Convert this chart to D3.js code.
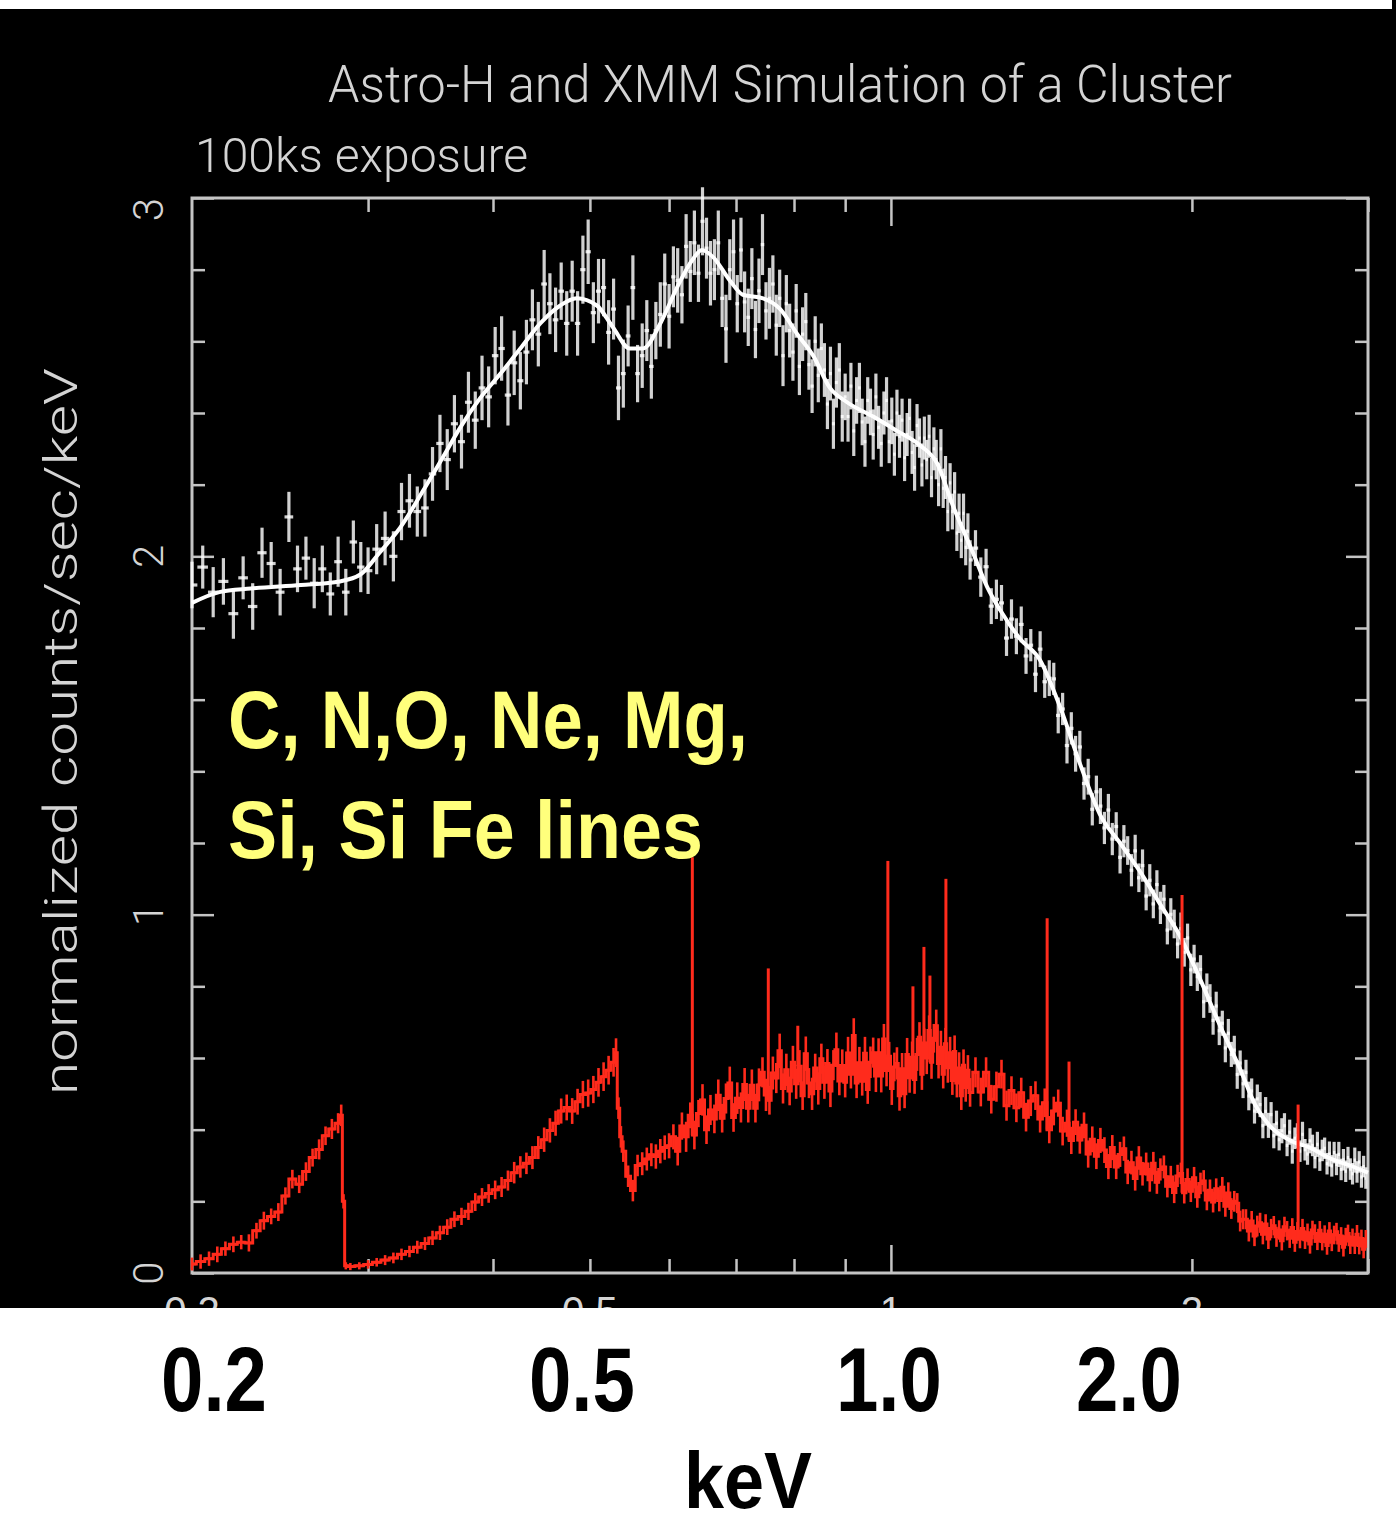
<!DOCTYPE html>
<html>
<head>
<meta charset="utf-8">
<script src="https://cdn.jsdelivr.net/npm/d3@7"></script>
<style>
  body { margin: 0; background: #fff; }
  svg { display: block; }
</style>
</head>
<body>
<div id="chart"></div>
<script>
// ---- data ----
const xDomain = [0.2, 3.0];
const yDomain = [0, 3];
const xMinorTicks = [0.3, 0.4, 0.5, 0.6, 0.7, 0.8, 0.9, 2, 3];
const xMajorTicks = [1];
const yMinorTicks = [0.2, 0.4, 0.6, 0.8, 1.2, 1.4, 1.6, 1.8, 2.2, 2.4, 2.6, 2.8];
const yMajorTicks = [0, 1, 2, 3];
const yTickLabels = ["0", "1", "2", "3"];
const xPlotLabelValues = [0.2, 0.5, 1, 2];
const xPlotLabels = ["0.2", "0.5", "1", "2"];
const bigLabelValues = [0.2, 0.5, 1.0, 2.0];
const bigLabels = ["0.2", "0.5", "1.0", "2.0"];

// shared energy bins above 0.6 keV
const gridMid = [0.606,0.612,0.618,0.624,0.630,0.636,0.642,0.648,0.654,0.660,0.666,0.672,0.678,0.684,0.690,0.696,0.702,0.708,0.714,0.720,0.726,0.732,0.738,0.744,0.750,0.756,0.762,0.768,0.774,0.780,0.786,0.792,0.798,0.804,0.810,0.816,0.822,0.828,0.834,0.840,0.846,0.852,0.858,0.864,0.870,0.876,0.882,0.888,0.894,0.900,0.906,0.912,0.918,0.924,0.930,0.936,0.942,0.948,0.954,0.960,0.966,0.972,0.978,0.984,0.990,0.996,1.002,1.008,1.014,1.020,1.026,1.032,1.038,1.044,1.050,1.056,1.062,1.068,1.074,1.080,1.086,1.092,1.098,1.104,1.110,1.116,1.122,1.128,1.134,1.140,1.146,1.152,1.158,1.164,1.170,1.176,1.182,1.188,1.194,1.200];
const gridHigh = [1.215,1.230,1.245,1.260,1.275,1.290,1.305,1.320,1.335,1.350,1.365,1.380,1.395,1.410,1.425,1.440,1.455,1.470,1.485,1.500,1.515,1.530,1.545,1.560,1.575,1.590,1.605,1.620,1.635,1.650,1.665,1.680,1.695,1.710,1.725,1.740,1.755,1.770,1.785,1.800,1.815,1.830,1.845,1.860,1.875,1.890,1.905,1.920,1.935,1.950,1.965,1.980,1.995,2.010,2.025,2.040,2.055,2.070,2.085,2.100,2.115,2.130,2.145,2.160,2.175,2.190,2.205,2.220,2.235,2.250,2.265,2.280,2.295,2.310,2.325,2.340,2.355,2.370,2.385,2.400,2.415,2.430,2.445,2.460,2.475,2.490,2.505,2.520,2.535,2.550,2.565,2.580,2.595,2.610,2.625,2.640,2.655,2.670,2.685,2.700,2.715,2.730,2.745,2.760,2.775,2.790,2.805,2.820,2.835,2.850,2.865,2.880,2.895,2.910,2.925,2.940,2.955,2.970,2.985];

// white: XMM-like spectrum, model curve + binned data
const whiteModelE = [0.200,0.213,0.229,0.257,0.281,0.295,0.308,0.323,0.340,0.357,0.371,0.388,0.407,0.426,0.446,0.467,0.485,0.508,0.527,0.548,0.565,0.588,0.611,0.634,0.647,0.664,0.690,0.711,0.745,0.775,0.806,0.836,0.869,0.904,0.960,1.014,1.069,1.112,1.154,1.208,1.248,1.286,1.346,1.410,1.476,1.546,1.618,1.695,1.775,1.858,1.946,2.038,2.134,2.234,2.313,2.394,2.507,2.625,2.749,2.878,3.000];
const whiteModelV = [1.87,1.90,1.91,1.92,1.93,1.95,2.01,2.08,2.18,2.28,2.36,2.44,2.51,2.58,2.65,2.70,2.72,2.70,2.64,2.58,2.58,2.65,2.75,2.83,2.855,2.835,2.77,2.73,2.72,2.69,2.62,2.56,2.47,2.43,2.39,2.35,2.31,2.26,2.14,2.01,1.915,1.85,1.77,1.71,1.58,1.42,1.28,1.20,1.12,1.03,0.94,0.82,0.69,0.57,0.47,0.41,0.37,0.35,0.32,0.30,0.28];

const whiteLowE = [0.200,0.205,0.210,0.215,0.220,0.225,0.230,0.235,0.240,0.245,0.250,0.255,0.260,0.265,0.270,0.275,0.280,0.285,0.290,0.295,0.300,
  0.306,0.312,0.318,0.324,0.330,0.336,0.342,0.348,0.354,0.360,0.366,0.372,0.378,0.384,0.390,0.396,0.402,0.408,0.414,0.420,0.426,0.432,0.438,0.444,0.450,0.456,0.462,0.468,0.474,0.480,0.486,0.492,0.498,0.504,0.510,0.516,0.522,0.528,0.534,0.540,0.546,0.552,0.558,0.564,0.570,0.576,0.582,0.588,0.594,0.600];
const whiteLowV = [1.92,1.97,1.90,1.93,1.84,1.94,1.86,2.01,1.98,1.90,2.11,1.965,1.995,1.925,1.965,1.895,1.985,1.90,2.04,1.97,1.96,
  2.02,2.05,2.00,2.125,2.155,2.125,2.135,2.23,2.315,2.27,2.37,2.32,2.43,2.38,2.47,2.445,2.56,2.58,2.45,2.54,2.49,2.57,2.66,2.62,2.76,2.705,2.66,2.74,2.65,2.74,2.65,2.80,2.85,2.68,2.74,2.75,2.625,2.69,2.47,2.51,2.615,2.75,2.51,2.56,2.63,2.53,2.63,2.675,2.76,2.67];
const whiteLowErr = [0.065,0.06,0.07,0.065,0.07,0.06,0.065,0.07,0.06,0.065,0.07,0.065,0.06,0.07,0.065,0.06,0.07,0.065,0.06,0.07,0.065,
  0.07,0.075,0.07,0.08,0.075,0.07,0.08,0.075,0.08,0.085,0.08,0.075,0.085,0.08,0.09,0.085,0.08,0.09,0.085,0.09,0.08,0.09,0.085,0.09,0.095,0.085,0.09,0.08,0.09,0.085,0.09,0.095,0.09,0.085,0.09,0.08,0.09,0.085,0.09,0.095,0.085,0.09,0.08,0.09,0.085,0.09,0.08,0.09,0.085,0.09];
const whiteMidV = [2.78,2.77,2.73,2.865,2.795,2.875,2.79,2.935,2.86,2.79,2.80,2.875,2.72,2.635,2.80,2.85,2.705,2.855,2.71,2.667,
  2.775,2.633,2.741,2.87,2.685,2.72,2.76,2.645,2.72,2.56,2.705,2.63,2.57,2.685,2.53,2.62,2.655,2.535,2.475,2.60,
  2.505,2.58,2.52,2.425,2.51,2.37,2.485,2.52,2.39,2.445,2.39,2.475,2.35,2.435,2.47,2.375,2.32,2.435,2.403,2.34,
  2.445,2.36,2.315,2.40,2.435,2.32,2.378,2.285,2.40,2.335,2.38,2.275,2.34,2.385,2.29,2.248,2.365,2.33,2.255,2.33,
  2.27,2.335,2.22,2.30,2.27,2.20,2.30,2.19,2.22,2.125,2.205,2.125,2.18,2.065,2.12,2.045,2.12,2.025,2.07,1.99];
const whiteMidErr = [0.085,0.09,0.08,0.09,0.085,0.09,0.08,0.095,0.085,0.09,0.085,0.09,0.08,0.095,0.085,0.09,0.08,0.09,0.085,0.08,
  0.085,0.08,0.09,0.085,0.08,0.085,0.08,0.085,0.08,0.085,0.08,0.075,0.08,0.075,0.08,0.075,0.08,0.07,0.075,0.07,
  0.075,0.07,0.075,0.07,0.075,0.07,0.07,0.075,0.07,0.065,0.07,0.065,0.07,0.065,0.07,0.065,0.07,0.065,0.065,0.07,
  0.065,0.06,0.065,0.06,0.065,0.06,0.065,0.06,0.065,0.06,0.06,0.065,0.06,0.055,0.06,0.065,0.06,0.055,0.06,0.06,
  0.055,0.06,0.055,0.06,0.055,0.06,0.055,0.055,0.06,0.055,0.055,0.05,0.055,0.05,0.055,0.05,0.055,0.05,0.05,0.055];
const whiteHighV = [2.023,1.942,1.971,1.861,1.880,1.870,1.772,1.825,1.777,1.810,1.722,1.752,1.671,1.741,1.650,1.660,1.658,1.556,1.574,1.472,
  1.520,1.449,1.468,1.366,1.385,1.294,1.343,1.303,1.242,1.292,1.211,1.246,1.160,1.205,1.179,1.124,1.178,1.103,1.137,1.052,
  1.096,1.030,1.084,1.019,1.043,0.957,1.001,0.974,0.918,0.961,0.895,0.935,0.846,0.876,0.827,0.847,0.757,0.796,0.766,0.705,
  0.745,0.676,0.697,0.628,0.669,0.610,0.622,0.554,0.586,0.528,0.560,0.494,0.508,0.452,0.486,0.470,0.411,0.451,0.412,0.442,
  0.383,0.418,0.372,0.397,0.411,0.356,0.393,0.340,0.376,0.383,0.340,0.387,0.344,0.332,0.369,0.356,0.322,0.359,0.315,0.342,
  0.348,0.305,0.332,0.299,0.336,0.303,0.331,0.289,0.316,0.284,0.322,0.290,0.277,0.315,0.282,0.310,0.268,0.297,0.265];
const whiteHighErr = [0.05,0.055,0.05,0.05,0.055,0.05,0.05,0.055,0.05,0.05,0.05,0.045,0.05,0.05,0.045,0.05,0.045,0.05,0.045,0.05,
  0.045,0.05,0.045,0.045,0.05,0.045,0.045,0.05,0.045,0.045,0.045,0.04,0.045,0.045,0.04,0.045,0.045,0.04,0.045,0.04,
  0.045,0.04,0.04,0.045,0.04,0.04,0.045,0.04,0.04,0.045,0.04,0.04,0.045,0.04,0.04,0.04,0.045,0.04,0.04,0.04,
  0.04,0.04,0.035,0.04,0.04,0.035,0.04,0.04,0.035,0.04,0.035,0.04,0.035,0.035,0.04,0.035,0.035,0.04,0.035,0.035,
  0.035,0.035,0.03,0.035,0.035,0.03,0.035,0.035,0.03,0.035,0.03,0.035,0.03,0.03,0.035,0.03,0.03,0.035,0.03,0.03,
  0.03,0.03,0.035,0.03,0.03,0.03,0.035,0.03,0.03,0.03,0.03,0.03,0.03,0.035,0.03,0.03,0.03,0.03,0.03];

// red: Astro-H-like high resolution spectrum (C and O edges near 0.28 / 0.53 keV)
const redLowE = [0.200,0.204,0.208,0.212,0.216,0.220,0.224,0.228,0.232,0.236,0.240,0.244,0.248,0.252,0.256,0.260,0.264,0.268,0.272,0.276,0.280,
  0.282,0.2835,0.285,
  0.288,0.294,0.300,0.306,0.312,0.318,0.324,0.330,0.336,0.342,0.348,0.354,0.360,0.366,0.372,0.378,0.384,0.390,0.396,
  0.402,0.408,0.414,0.420,0.426,0.432,0.438,0.444,0.450,0.456,0.462,0.468,0.474,0.480,0.486,0.492,0.498,0.504,0.510,0.516,0.522,0.528,
  0.531,0.534,0.537,
  0.540,0.546,0.552,0.558,0.564,0.570,0.576,0.582,0.588,0.594,0.600];
const redLowV = [0.025,0.032,0.040,0.052,0.068,0.080,0.086,0.084,0.118,0.146,0.158,0.170,0.215,0.262,0.248,0.283,0.322,0.345,0.383,0.402,0.418,
  0.440,0.200,0.020,
  0.018,0.020,0.024,0.030,0.036,0.042,0.052,0.060,0.072,0.082,0.098,0.112,0.128,0.150,0.158,0.172,0.198,0.212,0.222,
  0.232,0.240,0.258,0.280,0.296,0.306,0.322,0.350,0.372,0.398,0.418,0.452,0.462,0.452,0.478,0.498,0.502,0.512,0.532,0.548,0.566,0.588,
  0.615,0.46,0.38,
  0.34,0.27,0.23,0.30,0.305,0.318,0.33,0.325,0.34,0.35,0.355];
const redLowErr = [0.018,0.02,0.02,0.022,0.02,0.022,0.02,0.024,0.022,0.025,0.022,0.025,0.024,0.026,0.025,0.026,0.025,0.028,0.026,0.028,0.028,
  0.03,0.02,0.01,
  0.01,0.01,0.012,0.012,0.014,0.015,0.016,0.016,0.018,0.018,0.02,0.02,0.022,0.022,0.024,0.024,0.025,0.025,0.026,
  0.026,0.028,0.028,0.03,0.03,0.03,0.032,0.032,0.034,0.034,0.035,0.035,0.036,0.036,0.036,0.038,0.038,0.038,0.04,0.04,0.04,0.04,
  0.04,0.03,0.03,
  0.03,0.03,0.03,0.03,0.032,0.032,0.032,0.034,0.034,0.034,0.035];
const redMidV = [0.38,0.34,0.41,0.38,0.44,0.385,0.445,0.483,0.40,0.455,0.43,0.496,0.432,0.487,0.53,0.434,0.488,0.462,0.526,0.46,
  0.524,0.46,0.525,0.56,0.497,0.482,0.558,0.544,0.62,0.515,0.567,0.508,0.588,0.528,0.577,0.495,0.612,0.53,0.50,0.572,
  0.515,0.598,0.532,0.585,0.508,0.58,0.623,0.536,0.579,0.532,0.614,0.555,0.663,0.53,0.587,0.535,0.613,0.512,0.588,0.615,
  0.55,0.615,0.55,0.653,0.565,0.605,0.515,0.575,0.585,0.495,0.57,0.50,0.61,0.545,0.602,0.54,0.61,0.658,0.555,0.642,
  0.60,0.677,0.588,0.655,0.69,0.585,0.63,0.555,0.64,0.573,0.615,0.537,0.618,0.53,0.572,0.495,0.58,0.518,0.566,0.504];
const redMidErr = [0.035,0.04,0.038,0.042,0.036,0.04,0.038,0.044,0.04,0.042,0.04,0.044,0.04,0.042,0.046,0.04,0.044,0.042,0.046,0.04,
  0.044,0.04,0.046,0.042,0.045,0.04,0.046,0.042,0.048,0.042,0.045,0.04,0.046,0.042,0.045,0.04,0.048,0.042,0.045,0.04,
  0.045,0.042,0.046,0.04,0.045,0.042,0.048,0.04,0.045,0.042,0.045,0.04,0.048,0.042,0.044,0.04,0.046,0.04,0.044,0.042,
  0.045,0.04,0.046,0.042,0.044,0.04,0.046,0.04,0.045,0.042,0.044,0.04,0.046,0.042,0.044,0.04,0.046,0.042,0.044,0.04,
  0.045,0.042,0.046,0.04,0.045,0.042,0.046,0.04,0.044,0.042,0.044,0.04,0.045,0.04,0.044,0.04,0.044,0.04,0.042,0.04];
const redHighV = [0.56,0.505,0.56,0.485,0.52,0.555,0.467,0.509,0.461,0.503,0.435,0.48,0.495,0.43,0.475,0.40,0.452,0.474,0.396,0.418,
  0.37,0.421,0.371,0.412,0.332,0.373,0.326,0.37,0.343,0.297,0.35,0.296,0.331,0.347,0.282,0.308,0.264,0.321,0.277,0.304,
  0.26,0.306,0.253,0.289,0.296,0.242,0.268,0.225,0.271,0.278,0.224,0.261,0.228,0.266,0.213,0.25,0.257,0.204,0.231,0.198,
  0.235,0.202,0.239,0.186,0.223,0.18,0.20,0.195,0.145,0.15,0.15,0.117,0.145,0.103,0.131,0.14,0.108,0.137,0.095,0.124,
  0.132,0.101,0.12,0.09,0.129,0.118,0.097,0.127,0.086,0.116,0.095,0.124,0.093,0.112,0.081,0.12,0.11,0.089,0.119,0.088,
  0.108,0.077,0.117,0.086,0.106,0.115,0.084,0.103,0.072,0.101,0.11,0.079,0.099,0.078,0.108,0.077,0.096,0.066,0.095];
const redHighErr = [0.042,0.04,0.042,0.04,0.042,0.04,0.042,0.04,0.04,0.042,0.04,0.042,0.04,0.038,0.04,0.038,0.04,0.038,0.04,0.038,
  0.038,0.036,0.038,0.036,0.038,0.036,0.036,0.035,0.036,0.035,0.035,0.034,0.035,0.034,0.034,0.033,0.034,0.033,0.033,0.032,
  0.033,0.032,0.032,0.031,0.032,0.031,0.031,0.03,0.031,0.03,0.03,0.031,0.03,0.03,0.031,0.03,0.03,0.029,0.03,0.029,
  0.029,0.03,0.029,0.029,0.03,0.029,0.029,0.028,0.029,0.028,0.028,0.029,0.028,0.028,0.029,0.028,0.028,0.027,0.028,0.027,
  0.027,0.028,0.027,0.027,0.028,0.027,0.027,0.026,0.027,0.026,0.026,0.027,0.026,0.026,0.027,0.026,0.026,0.025,0.026,0.025,
  0.025,0.026,0.025,0.025,0.026,0.025,0.025,0.025,0.026,0.025,0.025,0.026,0.025,0.025,0.026,0.025,0.025,0.025,0.025];

// narrow emission lines in the red spectrum (energy, peak)
const lineE = [0.633, 0.754, 0.807, 0.993, 1.052, 1.079, 1.094, 1.135, 1.433, 1.507, 1.955, 2.554];
const lineV = [1.16, 0.85, 0.69, 1.15, 0.80, 0.91, 0.83, 1.10, 0.99, 0.59, 1.055, 0.47];

// ---- layout ----
const W = 1396, H = 1525;
const plot = {left: 192, right: 1368, top: 198, bottom: 1273};
const blackBottom = 1308;
const frameColor = "#c4c4c4";
const textGrey = "#d4d4d4";
const red = "#ff2b1c";
const pgFont = "Roboto, 'DejaVu Sans', sans-serif";
const boldNarrow = "'Liberation Sans Narrow', 'Liberation Sans', Arial, sans-serif";
const bigLabelNudge = [22, -8, -2, -63];

const svg = d3.select("#chart").append("svg")
    .attr("width", W)
    .attr("height", H);

const x = d3.scaleLog().domain(xDomain).range([plot.left, plot.right]);
const y = d3.scaleLinear().domain(yDomain).range([plot.bottom, plot.top]);

// black plot background with the thin white strip on top
svg.append("rect").attr("x", 0).attr("y", 0).attr("width", W).attr("height", blackBottom).attr("fill", "#000");
svg.append("rect").attr("x", 0).attr("y", 0).attr("width", 1392).attr("height", 9).attr("fill", "#fff");

// original plot tick labels, mostly hidden below the black area
svg.append("clipPath").attr("id", "blackArea")
  .append("rect").attr("x", 0).attr("y", 0).attr("width", W).attr("height", blackBottom);
svg.append("g")
    .attr("clip-path", "url(#blackArea)")
    .selectAll("text")
    .data(xPlotLabels)
    .enter().append("text")
    .attr("x", (d, i) => x(xPlotLabelValues[i]))
    .attr("y", 1325)
    .attr("text-anchor", "middle")
    .attr("font-family", "'Liberation Sans', sans-serif")
    .attr("font-size", 40)
    .attr("fill", textGrey)
    .text(d => d);

svg.append("rect").attr("x", 0).attr("y", blackBottom).attr("width", W).attr("height", H - blackBottom).attr("fill", "#fff");

// frame
svg.append("rect")
    .attr("x", plot.left).attr("y", plot.top)
    .attr("width", plot.right - plot.left).attr("height", plot.bottom - plot.top)
    .attr("fill", "none").attr("stroke", frameColor).attr("stroke-width", 3);

// inward ticks on all four sides
function ticks(axisFn, scale, values, size, transform) {
    svg.append("g")
        .attr("transform", transform)
        .call(axisFn(scale).tickValues(values).tickSize(-size).tickFormat(""))
        .call(g => g.select(".domain").remove())
        .selectAll("line")
        .attr("stroke", frameColor)
        .attr("stroke-width", 2.5);
}
ticks(d3.axisBottom, x, xMinorTicks, 14, "translate(0," + plot.bottom + ")");
ticks(d3.axisBottom, x, xMajorTicks, 28, "translate(0," + plot.bottom + ")");
ticks(d3.axisTop, x, xMinorTicks, 14, "translate(0," + plot.top + ")");
ticks(d3.axisTop, x, xMajorTicks, 28, "translate(0," + plot.top + ")");
ticks(d3.axisLeft, y, yMinorTicks, 13, "translate(" + plot.left + ",0)");
ticks(d3.axisLeft, y, yMajorTicks, 22, "translate(" + plot.left + ",0)");
ticks(d3.axisRight, y, yMinorTicks, 13, "translate(" + plot.right + ",0)");
ticks(d3.axisRight, y, yMajorTicks, 22, "translate(" + plot.right + ",0)");

// rotated y tick labels, the top one kept inside the frame
svg.append("g").selectAll("text")
    .data(yTickLabels)
    .enter().append("text")
    .attr("transform", (d, i) => "translate(163," + y(yMajorTicks[i]) + ") rotate(-90)")
    .attr("text-anchor", (d, i) => i === yTickLabels.length - 1 ? "end" : "middle")
    .attr("font-family", pgFont)
    .attr("font-weight", 300)
    .attr("font-size", 42)
    .attr("fill", textGrey)
    .text(d => d);

// helpers for binned data
function binned(E, V, Err) {
    return E.map((e, i) => ({
        e: e,
        v: V[i],
        err: Err[i],
        lo: i > 0 ? Math.sqrt(E[i - 1] * e) : e,
        hi: i < E.length - 1 ? Math.sqrt(E[i + 1] * e) : e
    }));
}

function drawBars(data, colour, width, opacity) {
    const g = svg.append("g")
        .attr("stroke", colour)
        .attr("stroke-width", width)
        .attr("stroke-opacity", opacity);
    g.selectAll(".ev").data(data).enter().append("line")
        .attr("x1", d => x(d.e)).attr("x2", d => x(d.e))
        .attr("y1", d => y(d.v - d.err)).attr("y2", d => y(d.v + d.err));
    g.selectAll(".eh").data(data).enter().append("line")
        .attr("x1", d => x(d.lo)).attr("x2", d => x(d.hi))
        .attr("y1", d => y(d.v)).attr("y2", d => y(d.v));
}

// white spectrum
const whiteData = binned(
    whiteLowE.concat(gridMid, gridHigh),
    whiteLowV.concat(whiteMidV, whiteHighV),
    whiteLowErr.concat(whiteMidErr, whiteHighErr));
drawBars(whiteData, "#ffffff", 3.2, 0.82);

const modelLine = d3.line()
    .x(d => x(d[0]))
    .y(d => y(d[1]))
    .curve(d3.curveMonotoneX);
svg.append("path")
    .datum(d3.zip(whiteModelE, whiteModelV))
    .attr("d", modelLine)
    .attr("fill", "none")
    .attr("stroke", "#fff")
    .attr("stroke-width", 4);

// red spectrum
const redE = redLowE.concat(gridMid, gridHigh);
const redV = redLowV.concat(redMidV, redHighV);
const redData = binned(redE, redV, redLowErr.concat(redMidErr, redHighErr));
drawBars(redData, red, 2.6, 1);
svg.append("path")
    .datum(redData)
    .attr("d", d3.line().x(d => x(d.e)).y(d => y(d.v)).curve(d3.curveStep))
    .attr("fill", "none")
    .attr("stroke", red)
    .attr("stroke-width", 3);

const bis = d3.bisector(d => d).left;
svg.append("g").selectAll("line")
    .data(d3.zip(lineE, lineV))
    .enter().append("line")
    .attr("x1", d => x(d[0])).attr("x2", d => x(d[0]))
    .attr("y1", d => y(redV[Math.min(redV.length - 1, bis(redE, d[0]))]))
    .attr("y2", d => y(d[1]))
    .attr("stroke", red)
    .attr("stroke-width", 3);

// titles
svg.append("text")
    .attr("x", 328).attr("y", 102)
    .attr("font-family", pgFont).attr("font-weight", 300)
    .attr("font-size", 52).attr("fill", textGrey)
    .attr("textLength", 904).attr("lengthAdjust", "spacingAndGlyphs")
    .text("Astro-H and XMM Simulation of a Cluster");

svg.append("text")
    .attr("x", 195).attr("y", 172)
    .attr("font-family", pgFont).attr("font-weight", 300)
    .attr("font-size", 48).attr("fill", textGrey)
    .attr("textLength", 333).attr("lengthAdjust", "spacingAndGlyphs")
    .text("100ks exposure");

svg.append("text")
    .attr("transform", "translate(77,1095) rotate(-90)")
    .attr("font-family", pgFont).attr("font-weight", 300)
    .attr("font-size", 46).attr("fill", textGrey)
    .attr("textLength", 727).attr("lengthAdjust", "spacingAndGlyphs")
    .text("normalized counts/sec/keV");

// yellow annotation
const note = svg.append("g")
    .attr("font-family", boldNarrow).attr("font-weight", "bold")
    .attr("font-size", 82).attr("fill", "#ffff7c");
note.append("text").attr("x", 228).attr("y", 748)
    .attr("textLength", 520).attr("lengthAdjust", "spacingAndGlyphs")
    .text("C, N,O, Ne, Mg,");
note.append("text").attr("x", 228).attr("y", 858)
    .attr("textLength", 475).attr("lengthAdjust", "spacingAndGlyphs")
    .text("Si, Si Fe lines");

// large black energy labels below the plot
svg.append("g").selectAll("text")
    .data(bigLabels)
    .enter().append("text")
    .attr("x", (d, i) => x(bigLabelValues[i]) + bigLabelNudge[i])
    .attr("y", 1411)
    .attr("text-anchor", "middle")
    .attr("font-family", boldNarrow).attr("font-weight", "bold")
    .attr("font-size", 90).attr("fill", "#000")
    .attr("textLength", 106).attr("lengthAdjust", "spacingAndGlyphs")
    .text(d => d);

// axis word, kept just inside the bottom edge
svg.append("text")
    .attr("x", 748).attr("y", 1508)
    .attr("text-anchor", "middle")
    .attr("font-family", boldNarrow).attr("font-weight", "bold")
    .attr("font-size", 80).attr("fill", "#000")
    .attr("textLength", 128).attr("lengthAdjust", "spacingAndGlyphs")
    .text("keV");
</script>
</body>
</html>
